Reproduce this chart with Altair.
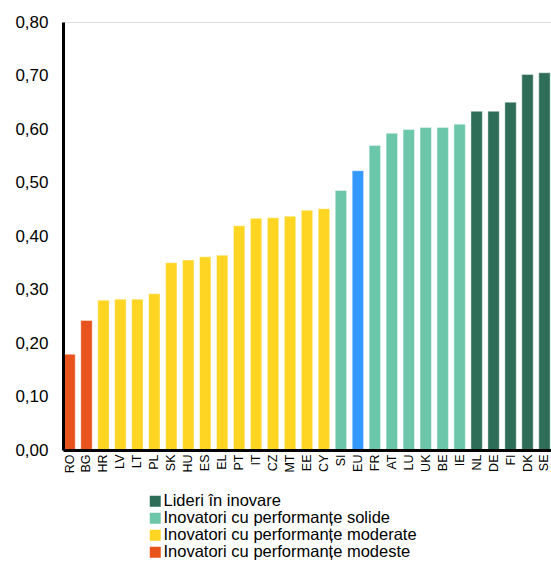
import altair as alt
import pandas as pd

# Summary innovation index by country
countries = ["RO", "BG", "HR", "LV", "LT", "PL", "SK", "HU", "ES", "EL",
             "PT", "IT", "CZ", "MT", "EE", "CY", "SI", "EU", "FR", "AT",
             "LU", "UK", "BE", "IE", "NL", "DE", "FI", "DK", "SE"]
values = [0.179, 0.242, 0.280, 0.282, 0.282, 0.292, 0.350, 0.355, 0.361, 0.364,
          0.419, 0.433, 0.434, 0.437, 0.448, 0.451, 0.485, 0.522, 0.569, 0.592,
          0.599, 0.603, 0.603, 0.609, 0.633, 0.633, 0.650, 0.702, 0.705]

LEAD = "Lideri în inovare"
STRONG = "Inovatori cu performanțe solide"
MODERATE = "Inovatori cu performanțe moderate"
MODEST = "Inovatori cu performanțe modeste"
EU = "EU"

groups = [MODEST, MODEST] + [MODERATE] * 14 + [STRONG, EU] + [STRONG] * 6 + [LEAD] * 5

group_order = [LEAD, STRONG, MODERATE, MODEST, EU]
group_colors = ["#2e6e58", "#6cc7aa", "#ffd523", "#e8521c", "#3399ff"]
y_ticks = [0.0, 0.1, 0.2, 0.3, 0.4, 0.5, 0.6, 0.7, 0.8]

df = pd.DataFrame({"country": countries, "value": values, "group": groups})

bars = alt.Chart(df).mark_bar(
    stroke="white", strokeWidth=0.8, strokeOpacity=0.5
).encode(
    x=alt.X(
        "country:N",
        sort=countries,
        title=None,
        scale=alt.Scale(paddingInner=0.33, paddingOuter=0.05),
        axis=alt.Axis(
            labelAngle=-90,
            labelFont="Liberation Sans",
            labelFontSize=12.5,
            labelColor="#000000",
            labelPadding=4,
            ticks=False,
            domainColor="#000000",
            domainWidth=3,
            labelBaseline="middle",
            zindex=1,
        ),
    ),
    y=alt.Y(
        "value:Q",
        title=None,
        scale=alt.Scale(domain=[0, 0.8], nice=False),
        axis=alt.Axis(
            values=y_ticks,
            labelExpr="replace(format(datum.value, '.2f'), '.', ',')",
            labelFont="Liberation Sans",
            labelFontSize=17,
            labelColor="#000000",
            labelPadding=15,
            ticks=False,
            grid=False,
            domainColor="#000000",
            domainWidth=3,
            zindex=1,
        ),
    ),
    color=alt.Color(
        "group:N",
        scale=alt.Scale(domain=group_order, range=group_colors),
        legend=alt.Legend(
            title=None,
            values=[LEAD, STRONG, MODERATE, MODEST],
            orient="none",
            legendX=84,
            legendY=471,
            symbolType="square",
            symbolSize=121,
            symbolStrokeWidth=0,
            symbolOpacity=1,
            labelFont="Liberation Sans",
            labelFontSize=16.5,
            labelColor="#000000",
            labelOffset=0,
            rowPadding=0,
            labelLimit=400,
        ),
    ),
)

chart = bars.properties(
    width=488,
    height=428,
    autosize=alt.AutoSizeParams(type="none"),
    padding={"left": 63, "top": 22, "right": 0, "bottom": 113},
).configure_view(strokeWidth=0).configure(background="white")

chart.save("out.html", embed_options={"renderer": "svg", "actions": False})
